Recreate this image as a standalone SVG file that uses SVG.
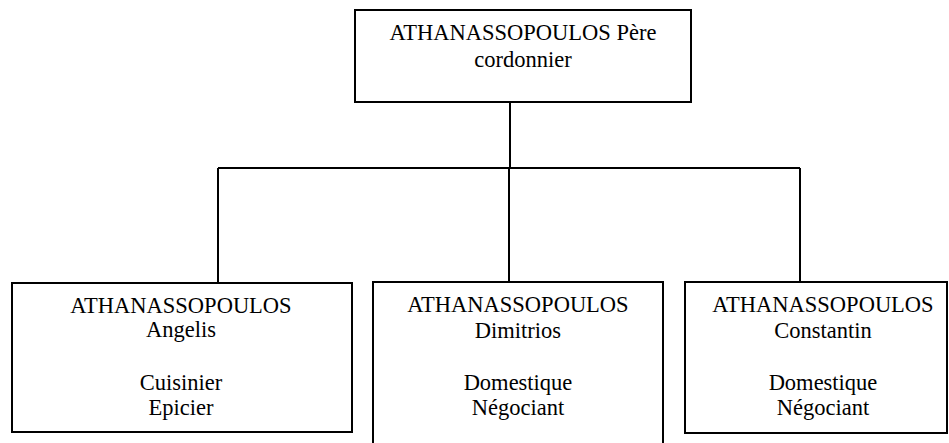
<svg xmlns="http://www.w3.org/2000/svg" width="949" height="443" viewBox="0 0 949 443">
<style>
.box{fill:#fff;stroke:#000;stroke-width:2}
.ln{fill:none;stroke:#000;stroke-width:2}
.t{font-size:22.5px;fill:#000;text-anchor:middle}
</style>
<rect width="949" height="443" fill="#fff"/>
<g id="connectors">
<path class="ln" d="M510 102 V168 M218 168 H800 M218 168 V283 M509 168 V282 M800 168 V282"/>
</g>
<g font-family="'Liberation Serif', 'DejaVu Serif', serif" class="t">
<g id="pere">
<rect class="box" x="355" y="10" width="336" height="92"/>
<text x="523" y="40">ATHANASSOPOULOS Père</text>
<text x="523" y="67">cordonnier</text>
</g>
<g id="angelis">
<rect class="box" x="12" y="283" width="340" height="149"/>
<text x="181" y="313">ATHANASSOPOULOS</text>
<text x="181" y="337">Angelis</text>
<text x="181" y="390">Cuisinier</text>
<text x="181" y="415">Epicier</text>
</g>
<g id="dimitrios">
<rect class="box" x="373" y="282" width="290" height="170"/>
<text x="518" y="312">ATHANASSOPOULOS</text>
<text x="518" y="338">Dimitrios</text>
<text x="518" y="390">Domestique</text>
<text x="518" y="415">Négociant</text>
</g>
<g id="constantin">
<rect class="box" x="685" y="282" width="262" height="151"/>
<text x="823" y="312">ATHANASSOPOULOS</text>
<text x="823" y="338">Constantin</text>
<text x="823" y="390">Domestique</text>
<text x="823" y="415">Négociant</text>
</g>
</g>
</svg>
